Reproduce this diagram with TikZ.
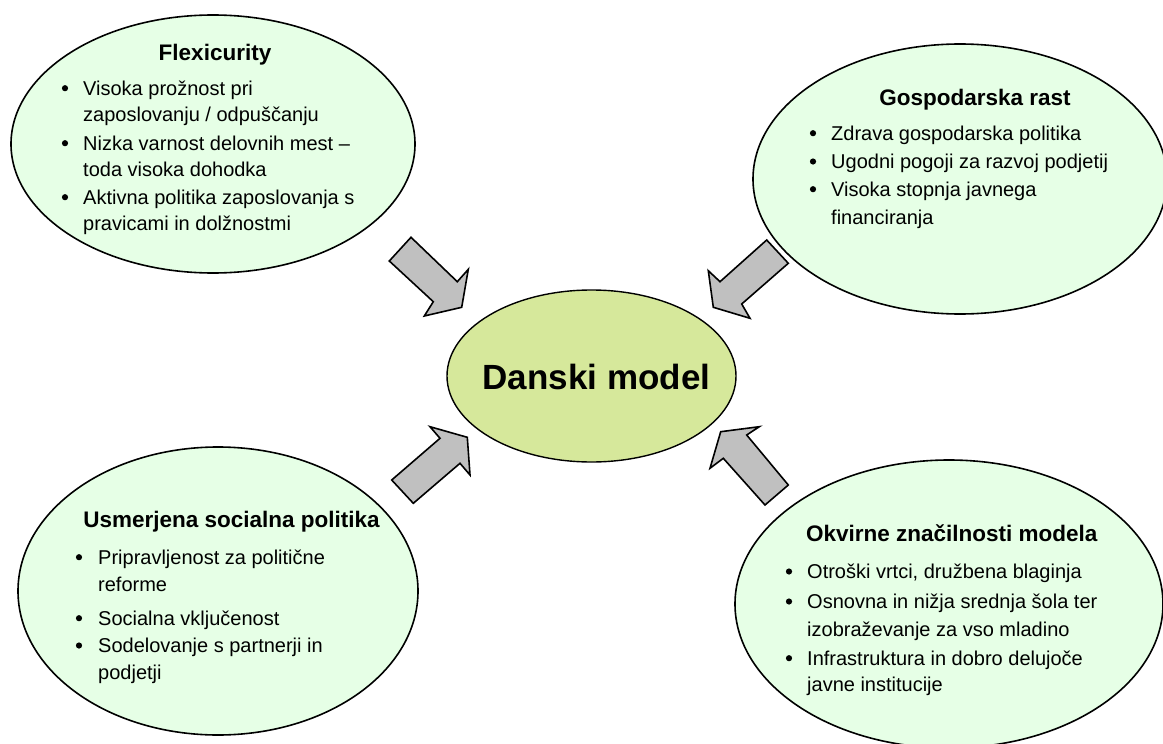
\documentclass[tikz,border=0pt]{standalone}
\usepackage{fontspec}
\setmainfont{Liberation Sans}
\usetikzlibrary{shapes.geometric}
\definecolor{pale}{RGB}{230,255,230}
\definecolor{core}{RGB}{214,232,155}
\definecolor{arrowgray}{RGB}{192,192,192}
\begin{document}
\begin{tikzpicture}[x=1pt,y=-1pt,
  bubble/.style={ellipse, draw=black, line width=1.6pt, fill=pale, inner sep=0pt},
  corebubble/.style={ellipse, draw=black, line width=1.4pt, fill=core, inner sep=0pt},
  heading/.style={font=\fontsize{22.5}{26}\selectfont\bfseries, anchor=base, inner sep=0pt},
  itemtext/.style={font=\fontsize{20}{24}\selectfont, anchor=base west, inner sep=0pt},
  bul/.style={circle, fill=black, inner sep=0pt, minimum size=6.2pt, yshift=6.8pt},
  blockarrow/.style={draw=black, line width=1.6pt, fill=arrowgray, line join=miter}
]
\useasboundingbox (0,0) rectangle (1163,744);
\clip (0,0) rectangle (1163,744);

% ellipses
\node[bubble, minimum width=404pt, minimum height=258pt] (flex) at (213,144) {};
\node[bubble, minimum width=414pt, minimum height=270pt] (rast) at (960,179) {};
\node[bubble, minimum width=400pt, minimum height=288pt] (soc) at (218,591) {};
\node[bubble, minimum width=428pt, minimum height=288pt] (okv) at (949,604) {};
\node[corebubble, minimum width=289pt, minimum height=172pt] (dm) at (591.5,376) {};

% central title
\node[font=\fontsize{35}{40}\selectfont\bfseries, anchor=base, inner sep=0pt] (dmt) at (596.5,389) {Danski model};

% block arrows
\draw[blockarrow] (411,237.3) -- (457.3,281.7) -- (468.3,269.3) -- (461.7,307.3) -- (424.3,316) -- (433.3,301.7) -- (389.3,261) -- cycle;
\draw[blockarrow] (766.7,240) -- (720,281.7) -- (708.3,270.7) -- (713.3,307.3) -- (750,318.3) -- (741.7,304) -- (788.3,263.3) -- cycle;
\draw[blockarrow] (391.7,480) -- (440,438.3) -- (430,426.7) -- (467.3,437.3) -- (470,475) -- (460,463.3) -- (413.3,503.3) -- cycle;
\draw[blockarrow] (788.3,485) -- (746.7,435) -- (759.3,426.7) -- (720.7,431.7) -- (710,468.3) -- (723.3,458.3) -- (765,505) -- cycle;

% Flexicurity
\node[heading] (ft) at (215,60) {Flexicurity};
\node[bul] (fb1) at (65,95) {};
\node[itemtext] (f1a) at (83,95) {Visoka prožnost pri};
\node[itemtext] (f1b) at (83,121.7) {zaposlovanju / odpuščanju};
\node[bul] (fb2) at (65,150) {};
\node[itemtext] (f2a) at (83,150) {Nizka varnost delovnih mest –};
\node[itemtext] (f2b) at (83,176.7) {toda visoka dohodka};
\node[bul] (fb3) at (65,204) {};
\node[itemtext] (f3a) at (83,204) {Aktivna politika zaposlovanja s};
\node[itemtext] (f3b) at (83,230.7) {pravicami in dolžnostmi};

% Gospodarska rast
\node[heading] (gt) at (975,105.7) {Gospodarska rast};
\node[bul] (gb1) at (813,140) {};
\node[itemtext] (g1) at (831,140) {Zdrava gospodarska politika};
\node[bul] (gb2) at (813,168.3) {};
\node[itemtext] (g2) at (831,168.3) {Ugodni pogoji za razvoj podjetij};
\node[bul] (gb3) at (813,196) {};
\node[itemtext] (g3a) at (831,196) {Visoka stopnja javnega};
\node[itemtext] (g3b) at (831,224) {financiranja};

% Usmerjena socialna politika
\node[heading] (st) at (231.5,527) {Usmerjena socialna politika};
\node[bul] (sb1) at (79,564) {};
\node[itemtext] (s1a) at (98,564) {Pripravljenost za politične};
\node[itemtext] (s1b) at (98,591.7) {reforme};
\node[bul] (sb2) at (79,625) {};
\node[itemtext] (s2) at (98,625) {Socialna vključenost};
\node[bul] (sb3) at (79,652.3) {};
\node[itemtext] (s3a) at (98,652.3) {Sodelovanje s partnerji in};
\node[itemtext] (s3b) at (98,679) {podjetji};

% Okvirne značilnosti modela
\node[heading] (ot) at (951.7,541.7) {Okvirne značilnosti modela};
\node[bul] (ob1) at (789,578.3) {};
\node[itemtext] (o1) at (807,578.3) {Otroški vrtci, družbena blaginja};
\node[bul] (ob2) at (789,608.3) {};
\node[itemtext] (o2a) at (807,608.3) {Osnovna in nižja srednja šola ter};
\node[itemtext] (o2b) at (807,636.7) {izobraževanje za vso mladino};
\node[bul] (ob3) at (789,665) {};
\node[itemtext] (o3a) at (807,665) {Infrastruktura in dobro delujoče};
\node[itemtext] (o3b) at (807,691.7) {javne institucije};
\end{tikzpicture}
\end{document}
